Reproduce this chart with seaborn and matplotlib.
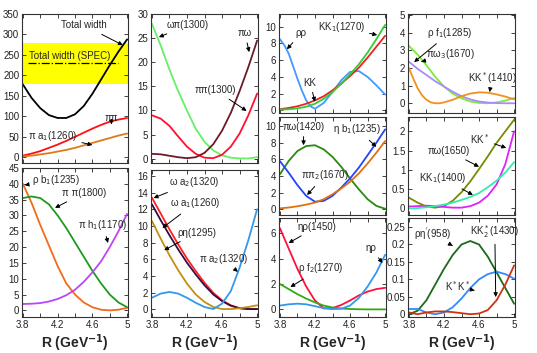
import numpy as np
import matplotlib
matplotlib.use("Agg")
import matplotlib.pyplot as plt
import seaborn as sns

# x grids (GeV^-1)
R = [3.8, 3.9, 4.0, 4.1, 4.2, 4.3, 4.4, 4.5, 4.6, 4.7, 4.8, 4.9, 5.0]
R_FINE = [3.8, 3.85, 3.9, 3.95, 4.0, 4.05, 4.1, 4.15, 4.2, 4.3, 4.4, 4.5, 4.6, 4.7, 4.8, 4.9, 5.0]

# column 1, top
total_width = [178, 145, 120, 103, 96, 96, 105, 125, 155, 190, 225, 258, 288]
pipi = [4, 9, 15, 23, 31, 40, 50, 60, 70, 79, 87, 92, 96]
pi_a1 = [2, 4, 7, 10, 14, 18, 23, 29, 35, 41, 47, 53, 58]
SPEC_WIDTH = 230
SPEC_LOW, SPEC_HIGH = 180, 280

# column 1, bottom
rho_b1 = [40, 34, 27, 20.5, 14, 8.5, 5, 2.5, 1, 0.2, 0, 0.2, 0.8]
pi_pi1800 = [35.5, 36, 35.5, 33.5, 30, 26, 21.5, 17, 12.5, 8.5, 5, 2.5, 1]
pi_h1 = [2, 2.1, 2.3, 2.8, 3.6, 4.8, 6.5, 9, 12, 15.5, 20, 25, 30.5]

# column 2, top
omega_pi1300 = [28, 23.5, 18.5, 14, 10, 6.2, 3.5, 1.7, 0.7, 0.2, 0.05, 0.05, 0.3]
pi_pi1300 = [9, 8.3, 6.8, 4.6, 2.5, 1.0, 0.2, 0.1, 0.8, 2.5, 5.2, 9.0, 13.5]
pi_omega = [1, 0.9, 0.6, 0.3, 0.1, 0.3, 1.2, 3, 5.8, 9.5, 14, 19, 24.5]

# column 2, bottom
omega_a2 = [13.4, 11.5, 9.6, 7.8, 6.1, 4.6, 3.2, 2.0, 1.1, 0.5, 0.15, 0.05, 0.05]
omega_a1 = [12.6, 10.7, 8.9, 7.2, 5.6, 4.2, 2.9, 1.8, 1.0, 0.45, 0.15, 0.05, 0.05]
rho_eta1295 = [10.6, 8.5, 6.5, 4.7, 3.1, 1.8, 0.9, 0.3, 0.05, 0.05, 0.15, 0.3, 0.5]
pi_a2 = [1.4, 1.9, 2.1, 1.9, 1.4, 0.8, 0.3, 0.05, 0.7, 2.2, 5.0, 8.3, 12]

# column 3, top
rho_rho = [8.5, 7.8, 6.8, 5.3, 3.8, 2.4, 1.2, 0.5, 0.2, 0.9, 2.2, 3.6, 4.6, 4.7, 4.0, 3.0, 1.9]
k_k = [0.15, 0.3, 0.5, 0.8, 1.2, 1.7, 2.4, 3.2, 4.1, 5.1, 6.3, 7.6, 8.9]
k_k1270 = [0.1, 0.15, 0.25, 0.45, 0.8, 1.4, 2.2, 3.2, 4.3, 5.5, 6.9, 8.5, 10.2]

# column 3, middle
pi_omega1420 = [4.2, 5.8, 7.0, 7.6, 7.7, 7.2, 6.3, 5.1, 3.7, 2.4, 1.2, 0.4, 0.05]
pi_pi2 = [5.8, 4.4, 2.9, 1.6, 0.9, 1.0, 1.6, 2.6, 3.7, 5.0, 6.5, 8.0, 9.6]
eta_b1 = [0.1, 0.2, 0.35, 0.55, 0.8, 1.2, 1.8, 2.5, 3.3, 4.3, 5.5, 6.8, 8.2]

# column 3, bottom
eta_rho1450 = [6.4, 4.8, 3.2, 1.8, 0.7, 0.08, 0.1, 0.35, 0.7, 1.1, 1.4, 1.6, 1.7]
rho_f2 = [2.0, 1.6, 1.2, 0.85, 0.55, 0.3, 0.15, 0.07, 0.03, 0.01, 0, 0, 0]
eta_rho = [0.3, 0.4, 0.45, 0.4, 0.25, 0.1, 0.02, 0.05, 0.3, 0.9, 1.8, 2.9, 4.3]

# column 4, top
pi_omega3 = [3.25, 2.75, 2.15, 1.5, 0.95, 0.55, 0.28, 0.1, 0.02, 0.0, 0.05, 0.15, 0.3]
rho_f1 = [2.35, 1.95, 1.6, 1.25, 0.95, 0.65, 0.4, 0.22, 0.1, 0.04, 0.01, 0.0, 0.0]
k_kstar1410 = [2.0, 1.4, 0.85, 0.45, 0.2, 0.05, 0.0, 0.0, 0.05, 0.2, 0.4, 0.55, 0.62, 0.6, 0.5, 0.38, 0.22]

# column 4, middle
pi_omega1650 = [0.28, 0.15, 0.05, 0.02, 0.06, 0.2, 0.42, 0.7, 1.02, 1.35, 1.7, 2.0, 2.3]
k_kstar = [0.05, 0.06, 0.07, 0.06, 0.04, 0.02, 0.02, 0.06, 0.15, 0.33, 0.62, 1.15, 2.0]
k_k1400 = [0.0, 0.01, 0.03, 0.06, 0.1, 0.15, 0.22, 0.3, 0.4, 0.55, 0.72, 0.93, 1.2]

# column 4, bottom
rho_etap = [0.0, 0.01, 0.04, 0.085, 0.13, 0.17, 0.2, 0.21, 0.2, 0.165, 0.12, 0.075, 0.03]
kstar_kstar = [0.015, 0.015, 0.005, 0.0, 0.005, 0.02, 0.045, 0.075, 0.1, 0.115, 0.122, 0.115, 0.102]
k_kstar2 = [0.005, 0.0, 0.005, 0.008, 0.008, 0.006, 0.003, 0.0, 0.002, 0.012, 0.04, 0.085, 0.14]

sns.set_style("ticks")
plt.rcParams['font.family'] = ['Liberation Sans', 'DejaVu Sans']
plt.rcParams['mathtext.fontset'] = 'dejavusans'

W, H = 537, 353
fig = plt.figure(figsize=(W / 100, H / 100), dpi=100)


def make_ax(x0, x1, y0, y1):
    return fig.add_axes([x0 / W, 1 - y1 / H, (x1 - x0) / W, (y1 - y0) / H])


def style_ax(ax, ylim, yticks, ylabels=None, bottom=False):
    ax.set_xlim(3.79, 5.01)
    ax.set_ylim(*ylim)
    ax.set_xticks([3.8, 4.0, 4.2, 4.4, 4.6, 4.8, 5.0])
    if bottom:
        ax.set_xticklabels(['3.8', '', '4.2', '', '4.6', '', '5'])
        ax.set_xlabel('R (GeV$^{\\mathbf{-1}}$)', fontsize=10, fontweight='bold', labelpad=2)
    else:
        ax.set_xticklabels([])
    ax.set_yticks(yticks)
    if ylabels is not None:
        ax.set_yticklabels(ylabels)
    ax.tick_params(direction='in', length=3, width=0.6, labelsize=7, pad=2,
                   top=True, right=True, colors='#222222')
    for s in ax.spines.values():
        s.set_linewidth(0.8)
        s.set_color('#333333')
    ax.set_ylabel('')


def curve(ax, x, y, color):
    sns.lineplot(x=x, y=y, ax=ax, color=color, lw=1.3)


def note(ax, text, xy, xytext, ha='left', va='center'):
    ax.annotate(text, xy=xy, xytext=xytext, fontsize=7, ha=ha, va=va,
                arrowprops=dict(arrowstyle='-|>', color='black', lw=0.7,
                                mutation_scale=6, shrinkA=1, shrinkB=0))


# ---- column 1 ----
ax = make_ax(22, 128, 14, 163)
ax.axhspan(SPEC_LOW, SPEC_HIGH, color='#ffff00', zorder=0, lw=0)
ax.plot([3.86, 4.9], [SPEC_WIDTH, SPEC_WIDTH], color='black', ls='-.', lw=0.9)
ax.text(3.87, 236, 'Total width (SPEC)', fontsize=7, va='bottom')
curve(ax, R, total_width, 'black')
curve(ax, R, pipi, '#ff1010')
curve(ax, R, pi_a1, '#dd7a1a')
note(ax, 'Total width', (4.95, 274), (4.77, 322), ha='right')
note(ax, 'ππ', (4.82, 80), (4.74, 96))
note(ax, 'π a$_1$(1260)', (4.6, 30), (3.86, 52))
style_ax(ax, (-14, 350), range(0, 351, 50))

ax = make_ax(22, 128, 168, 317)
curve(ax, R, rho_b1, '#f26b1d')
curve(ax, R, pi_pi1800, '#1f9a1f')
curve(ax, R, pi_h1, '#bb44ff')
note(ax, 'ρ b$_1$(1235)', (3.82, 39.6), (3.9, 41.2))
note(ax, 'π π(1800)', (4.17, 32.4), (4.25, 37.1))
note(ax, 'π h$_1$(1170)', (4.78, 21.3), (4.44, 27.0))
style_ax(ax, (-2.1, 45), range(0, 46, 5), bottom=True)

# ---- column 2 ----
ax = make_ax(151, 258, 14, 163)
curve(ax, R, omega_pi1300, '#66f066')
curve(ax, R, pi_pi1300, '#ff1030')
curve(ax, R, pi_omega, '#6b1a2a')
note(ax, 'ωπ(1300)', (3.88, 25.2), (3.97, 27.7))
note(ax, 'πω', (4.91, 22.1), (4.78, 26.0))
note(ax, 'ππ(1300)', (4.88, 9.9), (4.29, 14.2))
style_ax(ax, (-0.9, 30), range(0, 31, 5))

ax = make_ax(151, 258, 170, 317)
curve(ax, R, omega_a2, '#ff2020')
curve(ax, R, omega_a1, '#3a0a40')
curve(ax, R, rho_eta1295, '#c09010')
curve(ax, R, pi_a2, '#3399ee')
note(ax, 'ω a$_2$(1320)', (3.82, 13.35), (4.0, 15.3))
note(ax, 'ω a$_1$(1260)', (3.92, 9.76), (4.01, 12.75))
note(ax, 'ρη(1295)', (3.94, 7.1), (4.09, 9.2))
note(ax, 'π a$_2$(1320)', (4.78, 4.5), (4.34, 6.0))
style_ax(ax, (-0.9, 16.7), range(0, 17, 2), bottom=True)

# ---- column 3 ----
ax = make_ax(279, 386, 14, 113)
curve(ax, R_FINE, rho_rho, '#4499ff')
curve(ax, R, k_k, '#ee2020')
curve(ax, R, k_k1270, '#33cc33')
note(ax, 'ρρ', (3.88, 7.3), (3.98, 9.2))
note(ax, 'KK$_1$(1270)', (4.91, 9.0), (4.23, 9.9))
note(ax, 'KK', (4.2, 1.05), (4.07, 3.3))
style_ax(ax, (-0.3, 11.5), range(0, 11, 2))

ax = make_ax(279, 386, 117, 215)
curve(ax, R, pi_omega1420, '#2a8a10')
curve(ax, R, pi_pi2, '#2244ff')
curve(ax, R, eta_b1, '#e07010')
note(ax, 'πω(1420)', (4.07, 7.7), (3.83, 9.9))
note(ax, 'η b$_1$(1235)', (4.9, 7.5), (4.41, 9.65))
note(ax, 'ππ$_2$(1670)', (4.11, 1.7), (4.04, 4.1))
style_ax(ax, (-0.7, 11.1), range(0, 11, 2))

ax = make_ax(279, 386, 218, 317)
curve(ax, R, eta_rho1450, '#ff1040')
curve(ax, R, rho_f2, '#33aa11')
curve(ax, R, eta_rho, '#3399ee')
note(ax, 'ηρ(1450)', (3.9, 5.23), (4.0, 6.5))
note(ax, 'ρ f$_2$(1270)', (3.92, 1.76), (4.01, 3.25))
note(ax, 'ηρ', (4.97, 3.65), (4.78, 4.8))
style_ax(ax, (-0.6, 7.2), range(0, 7, 2), bottom=True)

# ---- column 4 ----
ax = make_ax(408, 515, 14, 113)
curve(ax, R, pi_omega3, '#77ee33')
curve(ax, R, rho_f1, '#aa88ff')
curve(ax, R_FINE, k_kstar1410, '#f09020')
note(ax, 'ρ f$_1$(1285)', (3.86, 2.33), (4.01, 4.0))
note(ax, 'πω$_3$(1670)', (3.94, 2.35), (3.99, 2.8))
note(ax, 'KK$^*$(1410)', (4.72, 0.63), (4.47, 1.45))
style_ax(ax, (-0.55, 5.05), range(0, 6))

ax = make_ax(408, 515, 117, 215)
curve(ax, R, pi_omega1650, '#7a8a00')
curve(ax, R, k_kstar, '#dd22ff')
curve(ax, R, k_k1400, '#33eeaa')
note(ax, 'KK$^*$', (4.91, 1.57), (4.5, 1.8))
note(ax, 'πω(1650)', (4.6, 1.08), (4.01, 1.49))
note(ax, 'KK$_1$(1400)', (4.53, 0.35), (3.91, 0.79))
style_ax(ax, (-0.17, 2.37), [0, 0.5, 1, 1.5, 2], ['0', '0.5', '1', '1.5', '2'])

ax = make_ax(408, 515, 218, 317)
curve(ax, R, rho_etap, '#1a6a1a')
curve(ax, R, kstar_kstar, '#3388ff')
curve(ax, R, k_kstar2, '#cc3311')
note(ax, "ρη$^{'}$(958)", (4.3, 0.196), (3.86, 0.23))
note(ax, 'KK$_2^*$(1430)', (4.79, 0.049), (4.5, 0.238))
note(ax, 'K$^*$K$^*$', (4.55, 0.068), (4.21, 0.08))
style_ax(ax, (-0.008, 0.276), [0, 0.05, 0.1, 0.15, 0.2, 0.25],
         ['0', '0.05', '0.1', '0.15', '0.2', '0.25'], bottom=True)

fig.savefig('out.png', dpi=100)
